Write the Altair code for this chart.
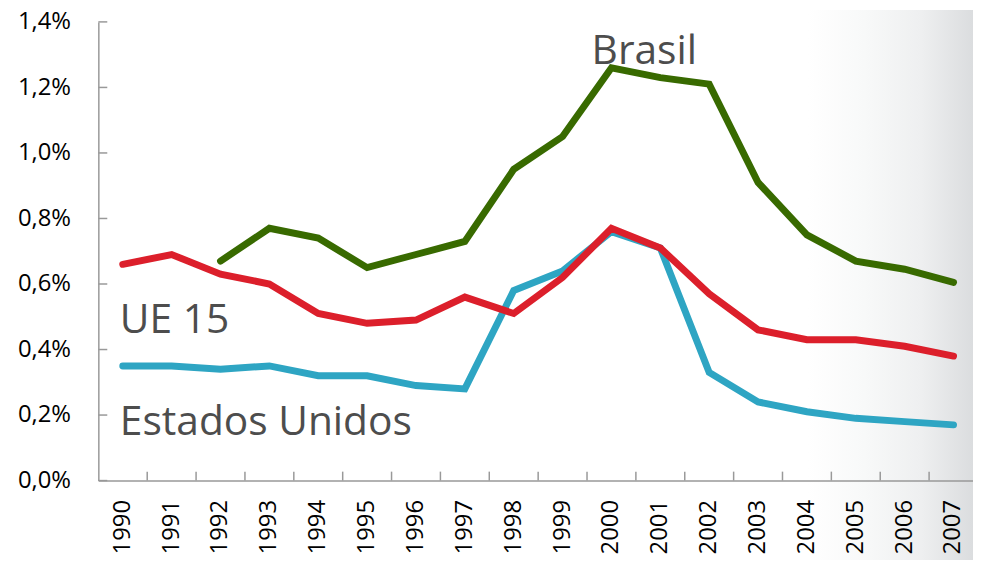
import altair as alt
import pandas as pd

years = [str(y) for y in range(1990, 2008)]
brasil = [None, None, 0.67, 0.77, 0.74, 0.65, 0.69, 0.73, 0.95, 1.05, 1.26, 1.23, 1.21, 0.91, 0.75, 0.67, 0.645, 0.605]
ue15 = [0.66, 0.69, 0.63, 0.60, 0.51, 0.48, 0.49, 0.56, 0.51, 0.62, 0.77, 0.71, 0.57, 0.46, 0.43, 0.43, 0.41, 0.38]
eua = [0.35, 0.35, 0.34, 0.35, 0.32, 0.32, 0.29, 0.28, 0.58, 0.64, 0.76, 0.71, 0.33, 0.24, 0.21, 0.19, 0.18, 0.17]
y_ticks = [0.0, 0.2, 0.4, 0.6, 0.8, 1.0, 1.2, 1.4]

label_text = ["Brasil", "UE 15", "Estados Unidos"]
label_year = ["2000", "1990", "1990"]
label_value = [1.27, 0.45, 0.14]

W, H = 878, 462
FONT = "Open Sans"
AXIS_COLOR = "#999999"

def series_df(vals):
    return pd.DataFrame([{"year": y, "value": v} for y, v in zip(years, vals) if v is not None])

xscale = alt.Scale(domain=years, type="band", paddingInner=0, paddingOuter=0, range=[0, 886])
yscale = alt.Scale(domain=[0, 1.4], nice=False, zero=True)

xenc = alt.X("year:O", scale=xscale, sort=years,
             axis=alt.Axis(title=None, labelAngle=-90, labelFont=FONT, labelFontSize=24,
                           labelColor="#000000", labelPadding=19, ticks=False, tickSize=0,
                           domainColor=AXIS_COLOR, domainWidth=1.5, labelAlign="right",
                           labelBaseline="middle", zindex=2))
yenc = alt.Y("value:Q", scale=yscale,
             axis=alt.Axis(title=None, values=y_ticks, grid=False, ticks=False, tickSize=0,
                           labelFont=FONT, labelFontSize=24, labelColor="#000000", labelPadding=28,
                           domainColor=AXIS_COLOR, domainWidth=1.5, zindex=2,
                           labelExpr="replace(format(datum.value, '.1f'), '.', ',') + '%'"))

bg = alt.Chart(pd.DataFrame({"a": [0]})).mark_rect(
    fill=alt.Gradient(gradient="linear", x1=0, x2=1, y1=0, y2=0,
                      stops=[alt.GradientStop(color="#ffffff", offset=0),
                             alt.GradientStop(color="#ffffff", offset=0.4),
                             alt.GradientStop(color="#f8f9f9", offset=0.6),
                             alt.GradientStop(color="#eeeff0", offset=0.8),
                             alt.GradientStop(color="#d9dbdd", offset=1)])
).encode(x=alt.value(600), x2=alt.value(886), y=alt.value(-12), y2=alt.value(H + 80))

def line(vals, color):
    return alt.Chart(series_df(vals)).mark_line(color=color, strokeWidth=7, strokeCap="round",
                                                strokeJoin="miter").encode(x=xenc, y=yenc)

l_eua = line(eua, "#2ea5c3")
l_ue = line(ue15, "#dc1f2b")
l_br = line(brasil, "#386a00")

ytick = alt.Chart(pd.DataFrame({"value": y_ticks})).mark_rule(color=AXIS_COLOR, strokeWidth=1.5).encode(
    y=alt.Y("value:Q", scale=yscale), x=alt.value(0), x2=alt.value(9))
xtick = alt.Chart(pd.DataFrame({"year": years[1:]})).mark_rule(color=AXIS_COLOR, strokeWidth=1.5).encode(
    x=alt.X("year:O", scale=xscale, sort=years, bandPosition=0), y=alt.value(H), y2=alt.value(H - 9))

labels_df = pd.DataFrame({"text": label_text, "year": label_year, "value": label_value})
lab_br = alt.Chart(labels_df.iloc[[0]]).mark_text(font=FONT, fontSize=41, color="#4d4d4d",
                                                  align="left", baseline="alphabetic", dx=-20).encode(
    x=alt.X("year:O", scale=xscale, sort=years), y=alt.Y("value:Q", scale=yscale), text="text:N")
lab_rest = alt.Chart(labels_df.iloc[[1, 2]]).mark_text(font=FONT, fontSize=41, color="#4d4d4d",
                                                       align="left", baseline="alphabetic", dx=-3).encode(
    x=alt.X("year:O", scale=xscale, sort=years), y=alt.Y("value:Q", scale=yscale), text="text:N")

chart = alt.layer(bg, l_eua, l_ue, l_br, ytick, xtick, lab_br, lab_rest).properties(
    width=W, height=H,
    autosize=alt.AutoSizeParams(type="none"),
    padding={"left": 91, "top": 12, "right": 3, "bottom": 79},
).configure_view(stroke=None)

chart.save("out.html", embed_options={"renderer": "svg", "actions": False})
